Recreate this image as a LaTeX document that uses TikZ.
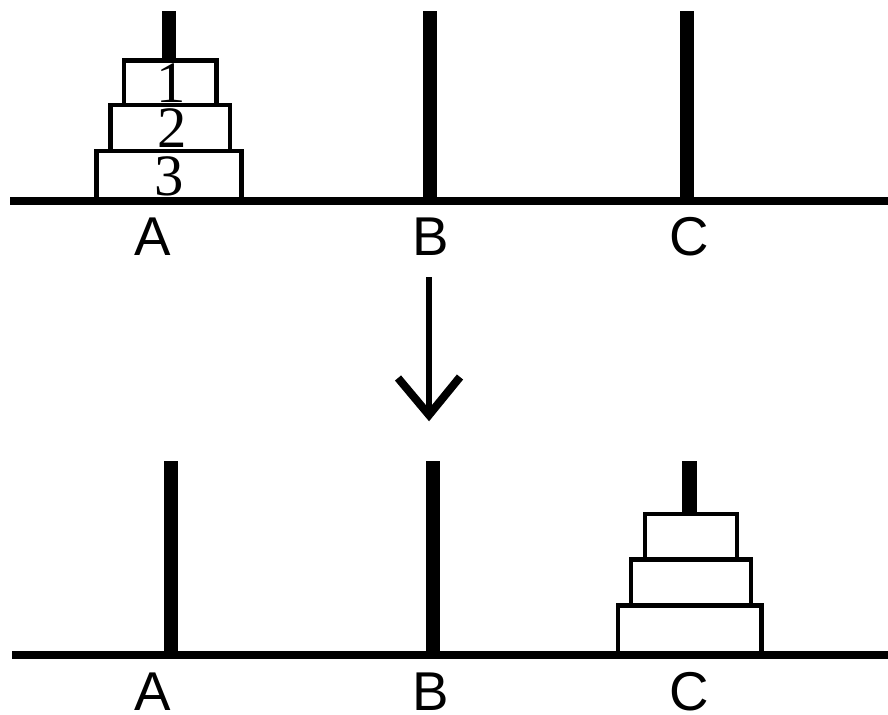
\documentclass[tikz,border=0pt]{standalone}
\usepackage{fontspec}
\setmainfont{Liberation Serif}
\newfontfamily\labfont{Liberation Sans}
\begin{document}
\begin{tikzpicture}[x=0.75pt,y=-0.75pt,
  baseline/.style={line width=5.5pt},
  peg/.style={line width=11pt},
  disk/.style={draw=black,fill=white,line width=3.4pt,line join=miter},
  pegname/.style={inner sep=0pt,anchor=base,font=\labfont\fontsize{41}{48}\selectfont},
  disknum/.style={inner sep=0pt,anchor=base,font=\fontsize{44}{50}\selectfont},
  movearrow/.style={line width=4.6pt},
  movehead/.style={line width=6pt,line join=miter,line cap=butt}]
\useasboundingbox (0,0) rectangle (888,714);
% ---------- top state ----------
\coordinate (tA) at (169,11);
\coordinate (tB) at (430,11);
\coordinate (tC) at (687,11);
\coordinate (tL) at (10,201);
\coordinate (tR) at (888,201);
\draw[peg] (tA) -- (tA |- tL);
\draw[peg] (tB) -- (tB |- tL);
\draw[peg] (tC) -- (tC |- tL);
\draw[disk] (96.5,151) rectangle (241.5,200);
\draw[disk] (110.5,105) rectangle (230,151);
\draw[disk] (124,60.5) rectangle (216.5,105);
\draw[baseline] (tL) -- (tR);
\node[disknum] (n1) at (171,102) {1};
\node[disknum] (n2) at (172,147) {2};
\node[disknum] (n3) at (169,195) {3};
\node[pegname] (la1) at (153,255) {A};
\node[pegname] (lb1) at (431,255) {B};
\node[pegname] (lc1) at (689,255) {C};
% ---------- arrow ----------
\coordinate (arrtop) at (429,277);
\coordinate (arrtip) at (429,415);
\coordinate (armL) at (398,378);
\coordinate (armR) at (460,377);
\draw[movearrow] (arrtop) -- (arrtip);
\draw[movehead] (armL) -- (arrtip) -- (armR);
% ---------- bottom state ----------
\coordinate (bA) at (171,461);
\coordinate (bB) at (433,461);
\coordinate (bC) at (689.5,461);
\coordinate (bL) at (12,655);
\coordinate (bR) at (888,655);
\draw[peg] (bA) -- (bA |- bL);
\draw[peg] (bB) -- (bB |- bL);
\draw[peg] (bC) -- (bC |- bL);
\draw[disk] (618,605.5) rectangle (761.5,653);
\draw[disk] (631,559.5) rectangle (751,605.5);
\draw[disk] (645,514) rectangle (737,559.5);
\draw[baseline] (bL) -- (bR);
\node[pegname] (la2) at (153,710) {A};
\node[pegname] (lb2) at (431,710) {B};
\node[pegname] (lc2) at (689,710) {C};
\end{tikzpicture}
\end{document}
